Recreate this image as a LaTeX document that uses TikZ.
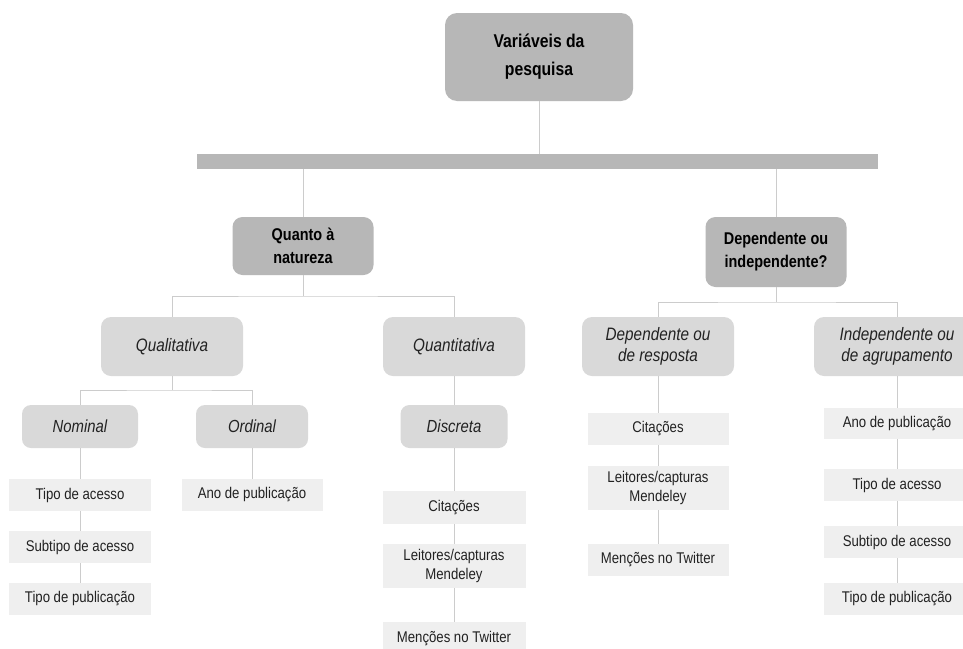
\documentclass[tikz,border=0pt]{standalone}
\usepackage{fontspec}
\setmainfont[FakeStretch=0.85]{Liberation Sans}
\begin{document}
\begin{tikzpicture}[x=1pt,y=-1pt,
  link/.style={draw=linegray,line width=0.9pt},
  box/.style={align=center,inner sep=0pt,text=textdark},
  rootbox/.style={box,fill=boxdark,rounded corners=12pt,minimum width=188pt,minimum height=88pt,
    font=\fontsize{18.5}{28}\selectfont\bfseries,text=black},
  groupbox/.style={box,fill=boxdark,rounded corners=10pt,minimum width=141pt,
    font=\fontsize{17}{23}\selectfont\bfseries,text=black},
  kindbox/.style={box,fill=boxmid,rounded corners=10pt,minimum height=59pt,
    font=\fontsize{18}{20.5}\selectfont\itshape},
  subbox/.style={box,fill=boxmid,rounded corners=9pt,minimum height=43pt,
    font=\fontsize{17.5}{20}\selectfont\itshape},
  leafbox/.style={box,fill=boxlight,minimum width=142pt,minimum height=32pt,
    font=\fontsize{15.5}{19}\selectfont},
]
\definecolor{linegray}{HTML}{CCCCCC}
\definecolor{boxdark}{HTML}{B7B7B7}
\definecolor{boxmid}{HTML}{D9D9D9}
\definecolor{boxlight}{HTML}{EFEFEF}
\definecolor{textdark}{HTML}{222222}

\clip (0,0) rectangle (963,648);
\fill[white] (0,0) rectangle (963,648);

% root and bar
\node[rootbox] (root) at (539,57) {Variáveis da\\pesquisa};
\node[fill=boxdark,inner sep=0pt,minimum width=681pt,minimum height=15pt] (bar) at (537.5,161.5) {};

% first level
\node[groupbox,minimum height=58pt] (nat) at (303,246) {Quanto à\\natureza};
\node[groupbox,minimum height=70pt] (dep) at (776,252) {Dependente ou\\independente?};

% second level
\node[kindbox,minimum width=142pt] (qual) at (172,346.5) {Qualitativa};
\node[kindbox,minimum width=142pt] (quant) at (454,346.5) {Quantitativa};
\node[kindbox,minimum width=152pt] (resp) at (658,346.5) {Dependente ou\\de resposta};
\node[kindbox,minimum width=166pt] (agrup) at (897,346.5) {Independente ou\\de agrupamento};

% third level
\node[subbox,minimum width=116pt] (nom) at (80,426.5) {Nominal};
\node[subbox,minimum width=112pt] (ord) at (252,426.5) {Ordinal};
\node[subbox,minimum width=107pt] (disc) at (454,426.5) {Discreta};

% leaves: nominal
\node[leafbox] (nA) at (80,495) {Tipo de acesso};
\node[leafbox] (nB) at (80,547) {Subtipo de acesso};
\node[leafbox] (nC) at (80,599) {Tipo de publicação};
% leaves: ordinal
\node[leafbox,minimum width=141pt] (oA) at (252,495) {Ano de publicação};
% leaves: discreta
\node[leafbox,minimum width=143pt,minimum height=33pt] (dA) at (454,507.5) {Citações};
\node[leafbox,minimum width=143pt,minimum height=44pt] (dB) at (454,566) {Leitores/capturas\\Mendeley};
\node[leafbox,minimum width=143pt,minimum height=33pt] (dC) at (454,638.5) {Menções no Twitter};
% leaves: dependente
\node[leafbox,minimum width=141pt] (rA) at (658,429) {Citações};
\node[leafbox,minimum width=141pt,minimum height=44pt] (rB) at (658,488) {Leitores/capturas\\Mendeley};
\node[leafbox,minimum width=141pt] (rC) at (658,560) {Menções no Twitter};
% leaves: independente
\node[leafbox,minimum width=146pt,minimum height=31pt] (aA) at (897,423.5) {Ano de publicação};
\node[leafbox,minimum width=146pt] (aB) at (897,485) {Tipo de acesso};
\node[leafbox,minimum width=146pt] (aC) at (897,542) {Subtipo de acesso};
\node[leafbox,minimum width=146pt] (aD) at (897,599) {Tipo de publicação};

% branching points
\coordinate (natsplit) at (303,296);
\coordinate (depsplit) at (776,302);
\coordinate (qualsplit) at (172,390);

% connectors
\draw[link] (root.south) -- (root.south |- bar.north);
\draw[link] (nat.north |- bar.south) -- (nat.north);
\draw[link] (dep.north |- bar.south) -- (dep.north);

\draw[link] (nat.south) -- (natsplit);
\draw[link] (qual.north) |- (natsplit) -| (quant.north);
\draw[link] (dep.south) -- (depsplit);
\draw[link] (resp.north) |- (depsplit) -| (agrup.north);

\draw[link] (qual.south) -- (qualsplit);
\draw[link] (nom.north) |- (qualsplit) -| (ord.north);
\draw[link] (quant.south) -- (disc.north);

\draw[link] (nom.south) -- (nA.north);
\draw[link] (nA.south) -- (nB.north);
\draw[link] (nB.south) -- (nC.north);
\draw[link] (ord.south) -- (oA.north);
\draw[link] (disc.south) -- (dA.north);
\draw[link] (dA.south) -- (dB.north);
\draw[link] (dB.south) -- (dC.north);

\draw[link] (resp.south) -- (rA.north);
\draw[link] (rA.south) -- (rB.north);
\draw[link] (rB.south) -- (rC.north);
\draw[link] (agrup.south) -- (aA.north);
\draw[link] (aA.south) -- (aB.north);
\draw[link] (aB.south) -- (aC.north);
\draw[link] (aC.south) -- (aD.north);
\end{tikzpicture}
\end{document}
